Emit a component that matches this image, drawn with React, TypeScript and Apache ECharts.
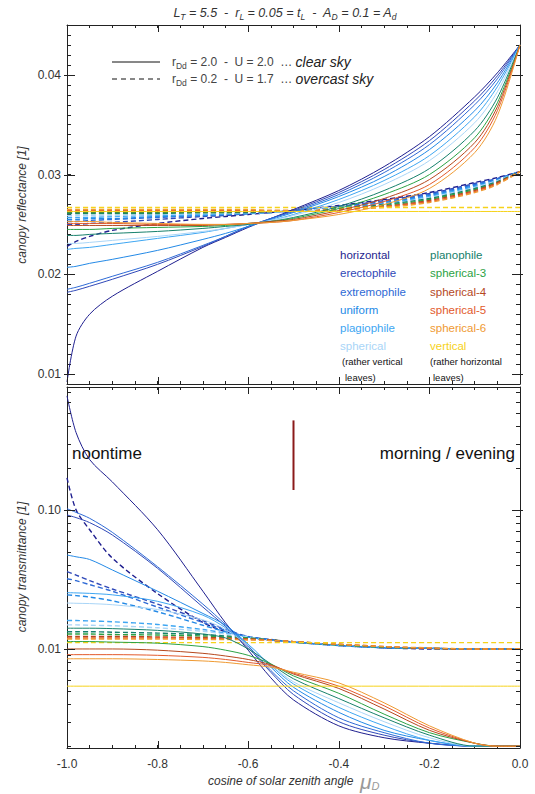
import React, { useEffect, useRef } from 'react';
import * as echarts from 'echarts';

// x samples: cosine of solar zenith angle
const X = [-1, -0.98, -0.95, -0.9, -0.8, -0.7, -0.65, -0.6, -0.55, -0.5, -0.4, -0.3, -0.2, -0.1, -0.05, 0];

const LEAF_TYPES = ['horizontal', 'erectophile', 'extremophile', 'uniform', 'plagiophile', 'spherical',
  'planophile', 'spherical-3', 'spherical-4', 'spherical-5', 'spherical-6', 'vertical'];
const LEAF_COLORS = ['#1f1f8f', '#2f48b8', '#2e6ad6', '#2389e6', '#3ea6f2', '#a9d5f7',
  '#16806b', '#2ba244', '#b5481e', '#e25a2c', '#ef9a32', '#f6d21a'];

// canopy reflectance, clear sky (solid)
const reflClear = [
  [0.0092, 0.0138, 0.0160, 0.0178, 0.0203, 0.0227, 0.0237, 0.0247, 0.0256, 0.0265, 0.0284, 0.0308, 0.0338, 0.0378, 0.0402, 0.0430],
  [0.0182, 0.0184, 0.0188, 0.0195, 0.0210, 0.0228, 0.0238, 0.0248, 0.0256, 0.0264, 0.0282, 0.0305, 0.0334, 0.0374, 0.0399, 0.0430],
  [0.0185, 0.0187, 0.0191, 0.0198, 0.0212, 0.0229, 0.0238, 0.0248, 0.0256, 0.0263, 0.0280, 0.0302, 0.0330, 0.0370, 0.0396, 0.0430],
  [0.0207, 0.0208, 0.0211, 0.0215, 0.0224, 0.0235, 0.0241, 0.0248, 0.0255, 0.0262, 0.0278, 0.0298, 0.0325, 0.0364, 0.0392, 0.0430],
  [0.0225, 0.0226, 0.0227, 0.0230, 0.0236, 0.0242, 0.0246, 0.0250, 0.0254, 0.0260, 0.0275, 0.0294, 0.0319, 0.0358, 0.0388, 0.0430],
  [0.0231, 0.0231, 0.0232, 0.0234, 0.0238, 0.0243, 0.0246, 0.0250, 0.0254, 0.0259, 0.0272, 0.0290, 0.0314, 0.0352, 0.0383, 0.0430],
  [0.0239, 0.0239, 0.0240, 0.0241, 0.0243, 0.0246, 0.0248, 0.0250, 0.0253, 0.0257, 0.0268, 0.0284, 0.0306, 0.0344, 0.0377, 0.0430],
  [0.0245, 0.0245, 0.0245, 0.0246, 0.0247, 0.0248, 0.0249, 0.0251, 0.0253, 0.0256, 0.0266, 0.0280, 0.0300, 0.0337, 0.0372, 0.0430],
  [0.0249, 0.0249, 0.0249, 0.0249, 0.0249, 0.0249, 0.0250, 0.0251, 0.0253, 0.0255, 0.0264, 0.0276, 0.0295, 0.0332, 0.0368, 0.0430],
  [0.0251, 0.0251, 0.0251, 0.0251, 0.0250, 0.0250, 0.0250, 0.0251, 0.0252, 0.0254, 0.0262, 0.0273, 0.0290, 0.0327, 0.0364, 0.0430],
  [0.0253, 0.0253, 0.0253, 0.0252, 0.0251, 0.0250, 0.0250, 0.0251, 0.0252, 0.0254, 0.0260, 0.0270, 0.0286, 0.0322, 0.0359, 0.0430],
  [0.0263, 0.0263, 0.0263, 0.0263, 0.0263, 0.0263, 0.0263, 0.0263, 0.0263, 0.0263, 0.0263, 0.0263, 0.0263, 0.0263, 0.0263, 0.0263],
];

// canopy reflectance, overcast sky (dashed)
const reflOvercast = [
  [0.0228, 0.0233, 0.0238, 0.0244, 0.0251, 0.0256, 0.0258, 0.0260, 0.0262, 0.0264, 0.0269, 0.0275, 0.0282, 0.0292, 0.0297, 0.0303],
  [0.0250, 0.0250, 0.0251, 0.0252, 0.0255, 0.0258, 0.0259, 0.0261, 0.0262, 0.0264, 0.0268, 0.0274, 0.0281, 0.0291, 0.0296, 0.0303],
  [0.0253, 0.0253, 0.0254, 0.0255, 0.0257, 0.0259, 0.0260, 0.0261, 0.0262, 0.0264, 0.0268, 0.0273, 0.0280, 0.0290, 0.0296, 0.0303],
  [0.0255, 0.0255, 0.0256, 0.0256, 0.0258, 0.0259, 0.0260, 0.0261, 0.0262, 0.0264, 0.0267, 0.0272, 0.0279, 0.0289, 0.0295, 0.0303],
  [0.0257, 0.0257, 0.0257, 0.0258, 0.0259, 0.0260, 0.0261, 0.0261, 0.0262, 0.0263, 0.0267, 0.0271, 0.0278, 0.0288, 0.0294, 0.0303],
  [0.0259, 0.0259, 0.0259, 0.0259, 0.0260, 0.0261, 0.0261, 0.0262, 0.0262, 0.0263, 0.0266, 0.0270, 0.0277, 0.0287, 0.0294, 0.0303],
  [0.0261, 0.0261, 0.0261, 0.0261, 0.0261, 0.0262, 0.0262, 0.0262, 0.0263, 0.0263, 0.0266, 0.0270, 0.0276, 0.0286, 0.0293, 0.0303],
  [0.0262, 0.0262, 0.0262, 0.0262, 0.0262, 0.0262, 0.0262, 0.0263, 0.0263, 0.0264, 0.0265, 0.0269, 0.0275, 0.0285, 0.0292, 0.0303],
  [0.0263, 0.0263, 0.0263, 0.0263, 0.0263, 0.0263, 0.0263, 0.0263, 0.0263, 0.0264, 0.0265, 0.0268, 0.0274, 0.0284, 0.0292, 0.0303],
  [0.0264, 0.0264, 0.0264, 0.0264, 0.0264, 0.0264, 0.0264, 0.0264, 0.0264, 0.0264, 0.0265, 0.0268, 0.0273, 0.0283, 0.0291, 0.0303],
  [0.0265, 0.0265, 0.0265, 0.0265, 0.0265, 0.0265, 0.0265, 0.0265, 0.0264, 0.0264, 0.0265, 0.0267, 0.0272, 0.0282, 0.0290, 0.0303],
  [0.0267, 0.0267, 0.0267, 0.0267, 0.0267, 0.0267, 0.0267, 0.0267, 0.0267, 0.0267, 0.0267, 0.0267, 0.0267, 0.0267, 0.0267, 0.0267],
];

// canopy transmittance, clear sky (solid)
const transClear = [
  [0.66, 0.36, 0.23, 0.159, 0.072, 0.026, 0.0154, 0.0098, 0.0062, 0.0043, 0.0028, 0.0023, 0.0021, 0.0020, 0.0020, 0.0020],
  [0.092, 0.088, 0.081, 0.066, 0.038, 0.020, 0.0145, 0.0102, 0.0068, 0.0047, 0.0030, 0.0024, 0.0021, 0.0020, 0.0020, 0.0020],
  [0.102, 0.096, 0.087, 0.069, 0.039, 0.021, 0.0150, 0.0105, 0.0070, 0.0050, 0.0032, 0.0025, 0.0021, 0.0020, 0.0020, 0.0020],
  [0.0474, 0.046, 0.044, 0.037, 0.026, 0.018, 0.0148, 0.0108, 0.0074, 0.0053, 0.0035, 0.0026, 0.0022, 0.0020, 0.0020, 0.0020],
  [0.0254, 0.0253, 0.0251, 0.0245, 0.0220, 0.0175, 0.0142, 0.0108, 0.0076, 0.0056, 0.0038, 0.0028, 0.0022, 0.0020, 0.0020, 0.0020],
  [0.0214, 0.0213, 0.0212, 0.0208, 0.0192, 0.0162, 0.0138, 0.0106, 0.0077, 0.0058, 0.0041, 0.0030, 0.0023, 0.0020, 0.0020, 0.0020],
  [0.0141, 0.0141, 0.0141, 0.0140, 0.0136, 0.0128, 0.0120, 0.0100, 0.0078, 0.0061, 0.0044, 0.0032, 0.0024, 0.0020, 0.0020, 0.0020],
  [0.0113, 0.0113, 0.0113, 0.0112, 0.0110, 0.0104, 0.0098, 0.0090, 0.0078, 0.0064, 0.0048, 0.0034, 0.0025, 0.0021, 0.0020, 0.0020],
  [0.0100, 0.0100, 0.0100, 0.0100, 0.0098, 0.0093, 0.0089, 0.0084, 0.0077, 0.0066, 0.0052, 0.0037, 0.0026, 0.0021, 0.0020, 0.0020],
  [0.0091, 0.0091, 0.0091, 0.0091, 0.0090, 0.0087, 0.0084, 0.0080, 0.0076, 0.0067, 0.0054, 0.0039, 0.0027, 0.0021, 0.0020, 0.0020],
  [0.0085, 0.0085, 0.0085, 0.0085, 0.0084, 0.0082, 0.0080, 0.0077, 0.0074, 0.0068, 0.0057, 0.0041, 0.0028, 0.0021, 0.0020, 0.0020],
  [0.0054, 0.0054, 0.0054, 0.0054, 0.0054, 0.0054, 0.0054, 0.0054, 0.0054, 0.0054, 0.0054, 0.0054, 0.0054, 0.0054, 0.0054, 0.0054],
];

// canopy transmittance, overcast sky (dashed)
const transOvercast = [
  [0.17, 0.10, 0.072, 0.045, 0.025, 0.0155, 0.0133, 0.0122, 0.0116, 0.0112, 0.0106, 0.0102, 0.0100, 0.0100, 0.0100, 0.0100],
  [0.036, 0.034, 0.031, 0.027, 0.021, 0.0160, 0.0138, 0.0123, 0.0117, 0.0112, 0.0106, 0.0102, 0.0101, 0.0100, 0.0100, 0.0100],
  [0.032, 0.031, 0.029, 0.026, 0.020, 0.0155, 0.0136, 0.0122, 0.0116, 0.0112, 0.0106, 0.0102, 0.0101, 0.0100, 0.0100, 0.0100],
  [0.0245, 0.0242, 0.0236, 0.0222, 0.0185, 0.0148, 0.0133, 0.0122, 0.0116, 0.0112, 0.0106, 0.0102, 0.0101, 0.0100, 0.0100, 0.0100],
  [0.0160, 0.0160, 0.0159, 0.0157, 0.0150, 0.0138, 0.0130, 0.0122, 0.0116, 0.0112, 0.0106, 0.0103, 0.0101, 0.0100, 0.0100, 0.0100],
  [0.0149, 0.0149, 0.0148, 0.0147, 0.0142, 0.0134, 0.0128, 0.0122, 0.0116, 0.0112, 0.0106, 0.0103, 0.0101, 0.0100, 0.0100, 0.0100],
  [0.0133, 0.0133, 0.0133, 0.0132, 0.0130, 0.0127, 0.0124, 0.0120, 0.0116, 0.0112, 0.0107, 0.0103, 0.0101, 0.0100, 0.0100, 0.0100],
  [0.0128, 0.0128, 0.0128, 0.0127, 0.0126, 0.0124, 0.0122, 0.0120, 0.0116, 0.0113, 0.0107, 0.0103, 0.0101, 0.0100, 0.0100, 0.0100],
  [0.0123, 0.0123, 0.0123, 0.0123, 0.0122, 0.0121, 0.0120, 0.0118, 0.0116, 0.0113, 0.0108, 0.0104, 0.0101, 0.0100, 0.0100, 0.0100],
  [0.0120, 0.0120, 0.0120, 0.0120, 0.0120, 0.0119, 0.0118, 0.0117, 0.0115, 0.0113, 0.0108, 0.0104, 0.0101, 0.0100, 0.0100, 0.0100],
  [0.0118, 0.0118, 0.0118, 0.0118, 0.0118, 0.0117, 0.0117, 0.0116, 0.0115, 0.0113, 0.0108, 0.0104, 0.0102, 0.0100, 0.0100, 0.0100],
  [0.0111, 0.0111, 0.0111, 0.0111, 0.0111, 0.0111, 0.0111, 0.0111, 0.0111, 0.0111, 0.0111, 0.0111, 0.0111, 0.0111, 0.0111, 0.0111],
];

// axis extents and ticks
const R_MIN = 0.009;
const R_MAX = 0.045;
const T_MIN = 0.00194;
const T_MAX = 0.765;
const X_TICK_MAJOR = [-1, -0.8, -0.6, -0.4, -0.2, 0];
const R_TICK_MAJOR = [0.01, 0.02, 0.03, 0.04];
const T_TICK_MAJOR = [0.01, 0.1];
const T_TICK_MINOR = [0.002, 0.003, 0.004, 0.005, 0.006, 0.007, 0.008, 0.009,
  0.02, 0.03, 0.04, 0.05, 0.06, 0.07, 0.08, 0.09, 0.2, 0.3, 0.4, 0.5, 0.6, 0.7];
// dark red marker at mu = -0.5
const MARKER = [[-0.5, 0.44], [-0.5, 0.139]];

const FONT = 'Liberation Sans, Arial, Helvetica, sans-serif';
const AX = '#222';

function xFmt(v: number) {
  const k = Math.round(v * 20);
  return k % 4 === 0 ? (k / 20).toFixed(1) : '';
}
function rFmt(v: number) {
  const k = Math.round(v * 1000);
  return k % 10 === 0 ? (k / 1000).toFixed(2) : '';
}

function buildOption() {
  const xAxis = [0, 0, 1, 1].map((g, i) => ({
    type: 'value', gridIndex: g, position: i % 2 === 0 ? 'bottom' : 'top',
    min: -1, max: 0, interval: 0.05,
    axisLine: { show: true, onZero: false, lineStyle: { color: AX, width: 1 } },
    axisTick: { show: true, inside: true, length: 3, lineStyle: { color: AX } },
    axisLabel: { show: i === 2, formatter: xFmt, color: '#333', fontSize: 12, fontFamily: FONT, margin: 10 },
    splitLine: { show: false },
  }));
  const yAxis: any[] = [
    ...['left', 'right'].map((p) => ({
      type: 'value', gridIndex: 0, position: p, min: R_MIN, max: R_MAX, interval: 0.001,
      axisLine: { show: true, onZero: false, lineStyle: { color: AX, width: 1 } },
      axisTick: { show: true, inside: true, length: 4, lineStyle: { color: AX } },
      axisLabel: { show: p === 'left', formatter: rFmt, color: '#333', fontSize: 12, fontFamily: FONT, margin: 6 },
      splitLine: { show: false },
    })),
    ...['left', 'right'].map((p) => ({
      type: 'log', logBase: 10, gridIndex: 1, position: p, min: T_MIN, max: T_MAX,
      axisLine: { show: true, onZero: false, lineStyle: { color: AX, width: 1 } },
      axisTick: { show: false },
      minorTick: { show: false },
      axisLabel: {
        show: p === 'left', showMinLabel: false, showMaxLabel: false,
        formatter: (v: number) => v.toFixed(2), color: '#333', fontSize: 12, fontFamily: FONT, margin: 6,
      },
      splitLine: { show: false },
    })),
  ];

  const series: any[] = [];
  LEAF_TYPES.forEach((name, i) => {
    const color = LEAF_COLORS[i];
    ([[reflOvercast, 0, true], [transOvercast, 2, true], [reflClear, 0, false], [transClear, 2, false]] as any[])
      .forEach(([arr, ax, dashed]) => {
        series.push({
          type: 'line', name, xAxisIndex: ax, yAxisIndex: ax, silent: true,
          data: X.map((x, j) => [x, arr[i][j]]),
          smooth: 0.3, symbol: 'none', showSymbol: false, z: dashed ? 2 : 3,
          lineStyle: { color, width: dashed ? 1.4 : 1, type: dashed ? [5, 3] : 'solid' },
        });
      });
  });

  series.push({
    type: 'line', xAxisIndex: 2, yAxisIndex: 2, data: MARKER, symbol: 'none', silent: true,
    lineStyle: { color: '#8b1a1a', width: 2 }, z: 4,
  });

  const line = (x1: number, y1: number, x2: number, y2: number) => ({
    type: 'line', shape: { x1, y1, x2, y2 }, style: { stroke: AX, lineWidth: 1 },
  });

  const xMajorTicks = (ax: number, yMin: number, yMax: number) => ({
    type: 'custom', xAxisIndex: ax, yAxisIndex: ax, silent: true, z: 6, clip: false,
    data: X_TICK_MAJOR.map((x) => [x, yMin]),
    renderItem: (_p: any, api: any) => {
      const x = api.value(0);
      const b = api.coord([x, yMin]);
      const t = api.coord([x, yMax]);
      const px = Math.round(b[0]) + 0.5;
      return { type: 'group', children: [line(px, b[1], px, b[1] - 7), line(px, t[1], px, t[1] + 7)] };
    },
  });

  const yTicks = (ax: number, vals: number[], len: number, out: number) => ({
    type: 'custom', xAxisIndex: ax, yAxisIndex: ax, silent: true, z: 6, clip: false,
    data: vals.map((v) => [-1, v]),
    renderItem: (_p: any, api: any) => {
      const v = api.value(1);
      const l = api.coord([-1, v]);
      const r = api.coord([0, v]);
      const py = Math.round(l[1]) + 0.5;
      return { type: 'group', children: [line(l[0] - out, py, l[0] + len, py), line(r[0] - len, py, r[0] + out, py)] };
    },
  });

  series.push(xMajorTicks(0, R_MIN, R_MAX));
  series.push(xMajorTicks(2, T_MIN, T_MAX));
  series.push(yTicks(0, R_TICK_MAJOR, 8, 3));
  series.push(yTicks(2, T_TICK_MAJOR, 8, 3));
  series.push(yTicks(2, T_TICK_MINOR, 4, 0));

  const txt = (x: number, y: number, text: string, extra: any = {}) => ({
    type: 'text', x, y, silent: true,
    style: { text, fontFamily: FONT, fontSize: 12, fill: '#222', align: 'left', verticalAlign: 'middle', ...extra },
  });

  const graphic: any[] = [
    txt(285, 13, '{i|L}{s|T}{i| = 5.5  -  r}{s|L}{i| = 0.05 = t}{s|L}{i|  -  A}{s|D}{i| = 0.1 = A}{s|d}', {
      align: 'center',
      rich: {
        i: { fontFamily: FONT, fontSize: 12.5, fontStyle: 'italic', fill: '#333', lineHeight: 16 },
        s: { fontFamily: FONT, fontSize: 8.5, fontStyle: 'italic', fill: '#333', lineHeight: 9, verticalAlign: 'bottom' },
      },
    }),
    { type: 'line', silent: true, shape: { x1: 112, y1: 62, x2: 160, y2: 62 }, style: { stroke: '#111', lineWidth: 1 } },
    { type: 'line', silent: true, shape: { x1: 112, y1: 79, x2: 160, y2: 79 }, style: { stroke: '#111', lineWidth: 1, lineDash: [5, 4] } },
    ...[[62, '2.0', '2.0', 'clear sky'], [79, '0.2', '1.7', 'overcast sky']].map(([y, r, u, label]) =>
      txt(172, y as number, `{t|r}{s|Dd}{t| = ${r}  -  U = ${u}  \u2026 }{e|${label}}`, {
        rich: {
          t: { fontFamily: FONT, fontSize: 12, fill: '#444', lineHeight: 16 },
          s: { fontFamily: FONT, fontSize: 8.5, fill: '#444', lineHeight: 9, verticalAlign: 'bottom' },
          e: { fontFamily: FONT, fontSize: 14, fontStyle: 'italic', fill: '#222', lineHeight: 16 },
        },
      })),
  ];

  const rowsY = [255, 273, 292, 310, 328, 346];
  LEAF_TYPES.forEach((name, i) => {
    const col = i < 6 ? 0 : 1;
    graphic.push(txt(col === 0 ? 340 : 430, rowsY[i % 6], name, { fontSize: 11.5, fill: LEAF_COLORS[i] }));
  });
  graphic.push(txt(342, 361, '(rather vertical', { fontSize: 9.5, fill: '#111' }));
  graphic.push(txt(345, 377, 'leaves)', { fontSize: 9.5, fill: '#111' }));
  graphic.push(txt(430, 361, '(rather horizontal', { fontSize: 9.5, fill: '#111' }));
  graphic.push(txt(433, 377, 'leaves)', { fontSize: 9.5, fill: '#111' }));

  graphic.push(txt(72, 453, 'noontime', { fontSize: 17, fill: '#111' }));
  graphic.push(txt(515, 453, 'morning / evening', { fontSize: 17, fill: '#111', align: 'right' }));

  graphic.push({
    ...txt(22, 205, 'canopy reflectance [1]', { fontStyle: 'italic', fill: '#333', align: 'center' }),
    rotation: Math.PI / 2,
  });
  graphic.push({
    ...txt(22, 567, 'canopy transmittance [1]', { fontStyle: 'italic', fill: '#333', align: 'center' }),
    rotation: Math.PI / 2,
  });
  graphic.push(txt(208, 781, '{t|cosine of solar zenith angle  }{m|\u03bc}{s|D}', {
    rich: {
      t: { fontFamily: FONT, fontSize: 12, fontStyle: 'italic', fill: '#333', lineHeight: 20 },
      m: { fontFamily: FONT, fontSize: 21, fontStyle: 'italic', fill: '#999', lineHeight: 20 },
      s: { fontFamily: FONT, fontSize: 11, fontStyle: 'italic', fill: '#999', lineHeight: 11, verticalAlign: 'bottom' },
    },
  }));

  return {
    animation: false,
    backgroundColor: '#ffffff',
    grid: [
      { left: 67, top: 25, width: 453, height: 359 },
      { left: 67, top: 387, width: 453, height: 361 },
    ],
    xAxis,
    yAxis,
    series,
    graphic,
  };
}

export default function App() {
  const ref = useRef<HTMLDivElement>(null);
  useEffect(() => {
    document.body.style.margin = '0';
    const chart = echarts.init(ref.current as HTMLDivElement, undefined, { renderer: 'svg' });
    chart.setOption(buildOption() as any);
    return () => chart.dispose();
  }, []);
  return <div ref={ref} style={{ width: 535, height: 794 }} />;
}
